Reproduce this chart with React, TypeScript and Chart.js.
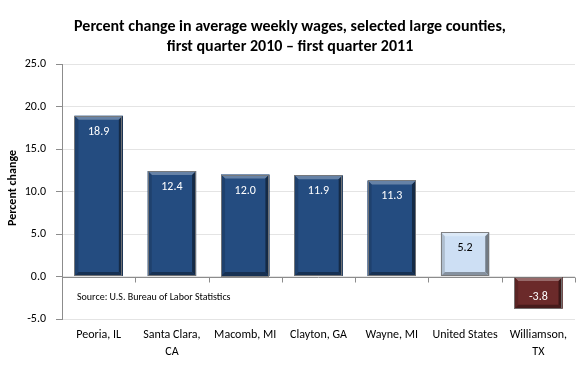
import React, { useEffect, useRef } from "react";
import { Chart, registerables } from "chart.js";

Chart.register(...registerables);

const categories: (string | string[])[] = [
  "Peoria, IL",
  ["Santa Clara,", "CA"],
  "Macomb, MI",
  "Clayton, GA",
  "Wayne, MI",
  "United States",
  ["Williamson,", "TX"],
];
const values: number[] = [18.9, 12.4, 12.0, 11.9, 11.3, 5.2, -3.8];
const barColors: string[] = ["#244c80", "#244c80", "#244c80", "#244c80", "#244c80", "#cddff4", "#6b2a2a"];
const labelColors: string[] = ["#ffffff", "#ffffff", "#ffffff", "#ffffff", "#ffffff", "#000000", "#ffffff"];
const titleLines: string[] = [
  "Percent change in average weekly wages, selected large counties,",
  "first quarter 2010 \u2013 first quarter 2011",
];
const yTitle = "Percent change";
const sourceText = "Source: U.S. Bureau of Labor Statistics";

const FONT = "Carlito, Lato, 'Open Sans', sans-serif";

function shade(hex: string, amt: number): string {
  const n = parseInt(hex.slice(1), 16);
  let r = (n >> 16) & 255, g = (n >> 8) & 255, b = n & 255;
  const f = (c: number) => Math.max(0, Math.min(255, Math.round(amt >= 0 ? c + (255 - c) * amt : c * (1 + amt))));
  return `rgb(${f(r)},${f(g)},${f(b)})`;
}

const decorPlugin = {
  id: "decor",
  beforeDatasetsDraw(chart: any) {
    const ctx = chart.ctx;
    const area = chart.chartArea;
    const y = chart.scales.y;
    const zy = Math.round(y.getPixelForValue(0)) + 0.5;
    ctx.save();
    ctx.strokeStyle = "#8c8c8c";
    ctx.lineWidth = 1;
    ctx.beginPath();
    ctx.moveTo(area.left, zy);
    ctx.lineTo(area.right, zy);
    const n = categories.length;
    const w = (area.right - area.left) / n;
    for (let i = 1; i <= n; i++) {
      const tx = Math.round(area.left + w * i) + 0.5;
      ctx.moveTo(tx, zy);
      ctx.lineTo(tx, zy + 5);
    }
    ctx.stroke();
    ctx.restore();
  },
  afterDatasetsDraw(chart: any) {
    const ctx = chart.ctx;
    const meta = chart.getDatasetMeta(0);
    ctx.save();
    meta.data.forEach((bar: any, i: number) => {
      const left = bar.x - bar.width / 2;
      const right = bar.x + bar.width / 2;
      const top = Math.min(bar.y, bar.base);
      const bottom = Math.max(bar.y, bar.base);
      const b = 4;
      const c = barColors[i];
      ctx.fillStyle = shade(c, 0.3);
      ctx.beginPath();
      ctx.moveTo(left, top); ctx.lineTo(right, top); ctx.lineTo(right - b, top + b); ctx.lineTo(left + b, top + b); ctx.closePath(); ctx.fill();
      ctx.fillStyle = shade(c, -0.15);
      ctx.beginPath();
      ctx.moveTo(left, top); ctx.lineTo(left + b, top + b); ctx.lineTo(left + b, bottom - b); ctx.lineTo(left, bottom); ctx.closePath(); ctx.fill();
      ctx.fillStyle = shade(c, -0.45);
      ctx.beginPath();
      ctx.moveTo(right, top); ctx.lineTo(right - b, top + b); ctx.lineTo(right - b, bottom - b); ctx.lineTo(right, bottom); ctx.closePath(); ctx.fill();
      ctx.fillStyle = shade(c, -0.35);
      ctx.beginPath();
      ctx.moveTo(left, bottom); ctx.lineTo(left + b, bottom - b); ctx.lineTo(right - b, bottom - b); ctx.lineTo(right, bottom); ctx.closePath(); ctx.fill();
      ctx.strokeStyle = "rgba(120,120,120,0.9)";
      ctx.lineWidth = 1;
      ctx.strokeRect(Math.round(left) + 0.5, Math.round(top) + 0.5, Math.round(right - left) - 1, Math.round(bottom - top) - 1);
      const v = values[i];
      ctx.fillStyle = labelColors[i];
      ctx.font = `12px ${FONT}`;
      ctx.textAlign = "center";
      ctx.textBaseline = "middle";
      const ly = v >= 0 ? top + 16 : bottom - 12;
      ctx.fillText(v.toFixed(1), bar.x, ly);
    });
    ctx.restore();
  },
  afterDraw(chart: any) {
    const ctx = chart.ctx;
    ctx.save();
    ctx.fillStyle = "#000";
    ctx.textAlign = "center";
    ctx.textBaseline = "middle";
    ctx.font = `bold 16px ${FONT}`;
    ctx.fillText(titleLines[0], 290, 27);
    ctx.fillText(titleLines[1], 290, 47);
    ctx.font = `10px ${FONT}`;
    ctx.textAlign = "left";
    ctx.fillText(sourceText, 77, 297);
    ctx.translate(13, 188);
    ctx.rotate(-Math.PI / 2);
    ctx.textAlign = "center";
    ctx.font = `bold 12px ${FONT}`;
    ctx.fillText(yTitle, 0, 0);
    ctx.restore();
  },
};

export default function App() {
  const ref = useRef<HTMLCanvasElement | null>(null);
  useEffect(() => {
    if (!ref.current) return;
    const chart = new Chart(ref.current, {
      type: "bar",
      data: {
        labels: categories,
        datasets: [
          {
            data: values,
            backgroundColor: barColors,
            borderWidth: 0,
            barPercentage: 0.66,
            categoryPercentage: 1,
          },
        ],
      },
      options: {
        animation: false,
        responsive: true,
        maintainAspectRatio: false,
        layout: { padding: { top: 64, right: 5, left: 0, bottom: 0 } },
        plugins: { legend: { display: false }, title: { display: false }, tooltip: { enabled: false } },
        scales: {
          x: {
            grid: { display: false, drawTicks: false },
            border: { display: false },
            ticks: { color: "#000", font: { family: FONT, size: 12, lineHeight: 1.4 }, padding: 8, maxRotation: 0, autoSkip: false },
            afterFit: (s: any) => { s.height = 64; },
          },
          y: {
            min: -5,
            max: 25,
            ticks: { stepSize: 5, color: "#000", font: { family: FONT, size: 12 }, padding: 10, callback: (v: any) => Number(v).toFixed(1) },
            grid: { color: "#e4e4e4", tickColor: "#8c8c8c", tickLength: 6 },
            border: { display: true, color: "#8c8c8c" },
            afterFit: (s: any) => { s.width = 62; },
          },
        },
      },
      plugins: [decorPlugin],
    });
    return () => chart.destroy();
  }, []);
  return (
    <div style={{ position: "absolute", left: 0, top: 0, width: 580, height: 383, background: "#fff" }}>
      <canvas ref={ref} />
    </div>
  );
}
